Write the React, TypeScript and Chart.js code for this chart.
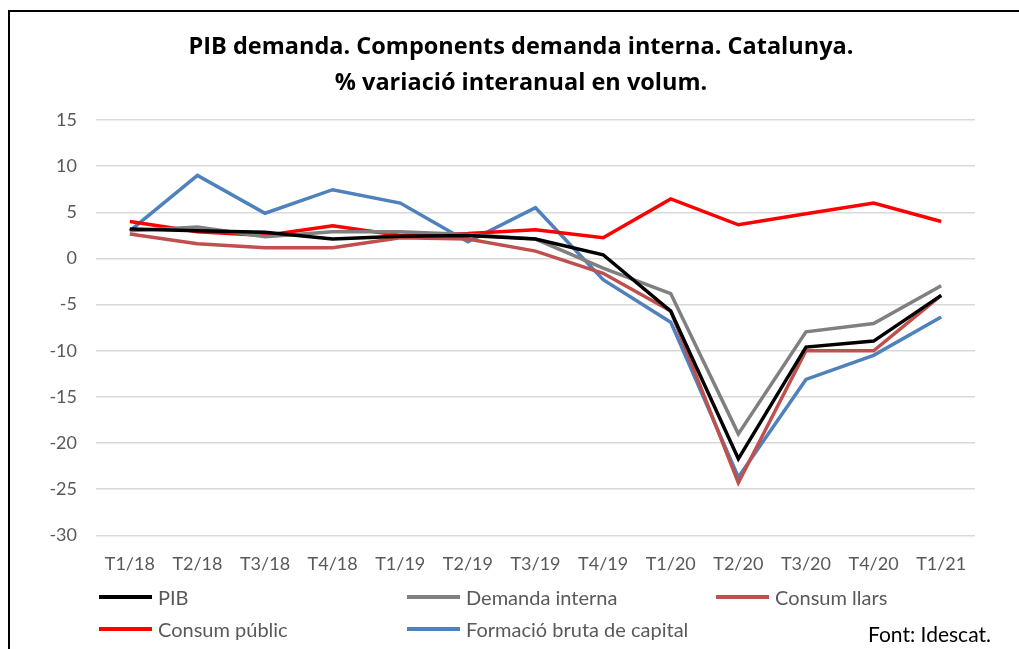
import React, { useEffect, useRef } from "react";
import { Chart, registerables } from "chart.js";

Chart.register(...registerables);

const categories = ["T1/18", "T2/18", "T3/18", "T4/18", "T1/19", "T2/19", "T3/19", "T4/19", "T1/20", "T2/20", "T3/20", "T4/20", "T1/21"];
const pib = [3.2, 3.0, 2.85, 2.1, 2.4, 2.5, 2.1, 0.4, -5.7, -21.7, -9.6, -8.95, -4.0];
const demandaInterna = [3.0, 3.4, 2.35, 2.9, 2.9, 2.6, 2.1, -1.05, -3.8, -19.0, -7.95, -7.05, -2.95];
const consumLlars = [2.65, 1.6, 1.15, 1.15, 2.25, 2.1, 0.8, -1.6, -5.7, -24.3, -10.0, -10.0, -4.0];
const consumPublic = [4.0, 2.9, 2.5, 3.55, 2.5, 2.7, 3.1, 2.25, 6.45, 3.65, 4.85, 6.0, 4.0];
const formacioCapital = [3.0, 9.0, 4.9, 7.45, 6.0, 1.8, 5.5, -2.3, -6.9, -23.7, -13.1, -10.5, -6.35];
const titleLines = ["PIB demanda. Components demanda interna. Catalunya.", "% variació interanual en volum."];
const sourceNote = "Font: Idescat.";

const seriesNames = ["PIB", "Demanda interna", "Consum llars", "Consum públic", "Formació bruta de capital"];
const seriesColors = ["#000000", "#808080", "#c0504d", "#ff0000", "#4f81bd"];
const seriesData = [pib, demandaInterna, consumLlars, consumPublic, formacioCapital];

const FONT = "Lato, 'Open Sans', sans-serif";
const TITLE_FONT = "'Open Sans', Lato, sans-serif";

const shiftTitle = {
  id: "shiftTitle",
  afterLayout(chart: any) {
    const t = chart.titleBlock;
    if (t) {
      t.left += 47;
      t.width -= 47;
    }
  },
};

export default function App() {
  const canvasRef = useRef<HTMLCanvasElement | null>(null);

  useEffect(() => {
    if (!canvasRef.current) return;
    const chart = new Chart(canvasRef.current, {
      type: "line",
      data: {
        labels: categories,
        datasets: seriesNames.map((name, i) => ({
          label: name,
          data: seriesData[i],
          borderColor: seriesColors[i],
          backgroundColor: seriesColors[i],
          borderWidth: 3.5,
          pointRadius: 0,
          tension: 0,
          fill: false,
        })),
      },
      plugins: [shiftTitle],
      options: {
        animation: false,
        responsive: false,
        maintainAspectRatio: false,
        layout: { padding: { left: 20, right: 44, top: 0, bottom: 56 } },
        plugins: {
          legend: { display: false },
          tooltip: { enabled: false },
          title: {
            display: true,
            text: titleLines,
            color: "#000000",
            font: { family: TITLE_FONT, size: 23.5, weight: "bold", lineHeight: 36 / 23.5 },
            padding: { top: 29, bottom: 19 },
          },
        },
        scales: {
          x: {
            offset: true,
            grid: { display: false, drawTicks: false },
            border: { display: false },
            ticks: { color: "#595959", font: { family: FONT, size: 18 }, padding: 18, maxRotation: 0, autoSkip: false },
          },
          y: {
            min: -30,
            max: 15,
            afterFit: (scale: any) => { scale.width = 76; },
            grid: { color: "#d9d9d9", lineWidth: 1.5, drawTicks: false },
            border: { display: false },
            ticks: { stepSize: 5, color: "#595959", font: { family: FONT, size: 18 }, padding: 19 },
          },
        },
      },
    });
    return () => chart.destroy();
  }, []);

  const legendRows = [[0, 1, 2], [3, 4]];
  const colX = [99, 407, 716];
  const rowY = [597, 629];

  return (
    <div style={{ position: "fixed", left: 0, top: 0, width: 1019, height: 649, background: "#ffffff", overflow: "hidden" }}>
      <div style={{ position: "absolute", left: 8, top: 10, width: 1100, height: 700, border: "2px solid #000", boxSizing: "border-box" }} />
      <canvas ref={canvasRef} width={1019} height={649} style={{ position: "absolute", left: 0, top: 0, width: 1019, height: 649 }} />
      {legendRows.map((row, r) =>
        row.map((idx, c) => (
          <div key={idx} style={{ position: "absolute", left: colX[c], top: rowY[r] - 13, height: 26, display: "flex", alignItems: "center", fontFamily: FONT, fontSize: 20, color: "#595959", whiteSpace: "nowrap" }}>
            <span style={{ display: "inline-block", width: 53, height: 4, background: seriesColors[idx], marginRight: 6 }} />
            {seriesNames[idx]}
          </div>
        ))
      )}
      <div style={{ position: "absolute", left: 868, top: 633 - 13, height: 26, display: "flex", alignItems: "center", fontFamily: FONT, fontSize: 21, color: "#000", whiteSpace: "nowrap" }}>{sourceNote}</div>
    </div>
  );
}
